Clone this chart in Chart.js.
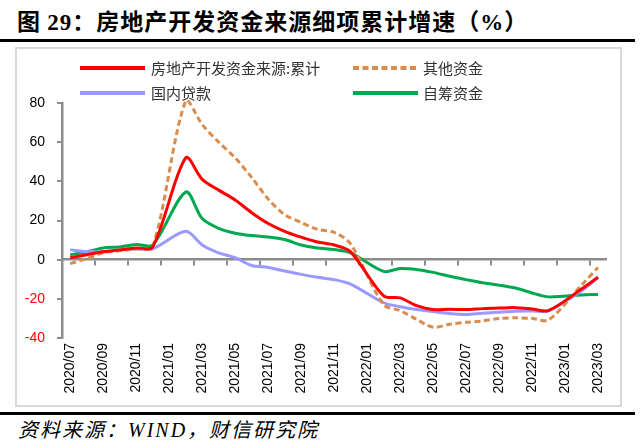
<!DOCTYPE html>
<html>
<head>
<meta charset="utf-8">
<script src="https://cdn.jsdelivr.net/npm/chart.js@4.4.0/dist/chart.umd.min.js"></script>
<style>
  body { margin: 0; width: 640px; height: 443px; background: #fff; position: relative; overflow: hidden;
         font-family: "Noto Sans CJK SC", sans-serif; }
  #title { position: absolute; left: 17px; top: 5px; font-size: 23px; font-weight: bold; letter-spacing: 1px;
           line-height: 30px; color: #000; white-space: nowrap; }
  #title .num { font-family: "Liberation Serif", serif; }
  .rule { position: absolute; left: 0; width: 635px; height: 3px; background: #000; }
  #frame { position: absolute; left: 15px; top: 47px; width: 607px; height: 360px; box-sizing: border-box;
           border: 2px solid #d9d9d9; }
  #wrap { position: absolute; left: 0; top: 0; width: 603px; height: 356px; }
  .leg { position: absolute; font-size: 15px; line-height: 20px; color: #333; white-space: nowrap; }
  .swatch { position: absolute; }
  #source { position: absolute; left: 18px; top: 416px; font-size: 20px; font-style: italic; letter-spacing: 2px;
            line-height: 26px; color: #000; white-space: nowrap; }
  #source .en { font-family: "Liberation Serif", serif; }
</style>
</head>
<body>
<div id="title">图 <span class="num">29</span>：房地产开发资金来源细项累计增速（<span class="num">%</span>）</div>
<div class="rule" style="top:39px"></div>

<div id="frame"><div id="wrap"><canvas id="chart-line"></canvas></div></div>

<svg class="swatch" style="left:78px;top:60px" width="70" height="45">
  <line x1="2" y1="8" x2="67" y2="8" stroke="#ff0000" stroke-width="4"/>
  <line x1="2" y1="33" x2="67" y2="33" stroke="#9999ff" stroke-width="4"/>
</svg>
<svg class="swatch" style="left:351px;top:60px" width="70" height="45">
  <line x1="2" y1="8" x2="67" y2="8" stroke="#d98c4e" stroke-width="4" stroke-dasharray="6,3.5"/>
  <line x1="2" y1="33" x2="67" y2="33" stroke="#00a850" stroke-width="4"/>
</svg>
<div class="leg" style="left:151px;top:58px">房地产开发资金来源:累计</div>
<div class="leg" style="left:151px;top:83px">国内贷款</div>
<div class="leg" style="left:423px;top:58px">其他资金</div>
<div class="leg" style="left:423px;top:83px">自筹资金</div>

<div class="rule" style="top:412px"></div>
<div id="source">资料来源：<span class="en">WIND</span>，财信研究院</div>

<script>
var months = ['2020/07', '2020/08', '2020/09', '2020/10', '2020/11', '2020/12',
  '2021/01', '2021/02', '2021/03', '2021/04', '2021/05', '2021/06',
  '2021/07', '2021/08', '2021/09', '2021/10', '2021/11', '2021/12',
  '2022/01', '2022/02', '2022/03', '2022/04', '2022/05', '2022/06',
  '2022/07', '2022/08', '2022/09', '2022/10', '2022/11', '2022/12',
  '2023/01', '2023/02', '2023/03'];

// January has no separate release (Jan-Feb combined), left empty
var totalFunds = [1, 2.5, 4, 5, 6, 6.5, null, 52, 41, 35.5, 30.5, 24,
  18.5, 14.5, 11.5, 9, 7.5, 4, null, -18.5, -19.5, -23.5, -25.5, -25.3,
  -25.5, -25, -24.7, -24.5, -25.2, -26, null, -15, -9];
var otherFunds = [-2, 0.5, 3.5, 4.5, 5.5, 6.5, null, 81, 69, 60, 52, 42,
  31, 23, 19, 15.5, 14, 8, null, -23, -26, -30.5, -34.5, -33,
  -32, -31.3, -30, -29.7, -30, -30.8, null, -13, -4];
var domesticLoans = [5, 4.2, 4, 5, 5.5, 5.5, null, 14.5, 7.5, 3.5, 1, -3,
  -4, -5.8, -7.5, -9, -10.2, -12.5, null, -22, -24, -25.5, -26.5, -27.5,
  -28, -27.3, -26.8, -26.3, -26.2, -26, null, -16, -9];
var selfRaised = [2.5, 4, 6, 6.5, 7.8, 7.5, null, 34.5, 21, 16, 13.5, 12.3,
  11.6, 10.3, 7.5, 6, 5.2, 3.5, null, -6, -4.5, -5, -6.5, -8.5,
  -10.2, -11.8, -13, -14.5, -17, -19, null, -18, -17.8];

var yTicks = [-40, -20, 0, 20, 40, 60, 80];

Chart.defaults.font.family = '"Liberation Sans", Arial, sans-serif';
Chart.defaults.color = '#000';

var axisGray = '#8c8c8c';

var line = function(label, data, color, dash) {
  return {
    label: label,
    data: data,
    borderColor: color,
    backgroundColor: color,
    borderWidth: 3,
    borderDash: dash || [],
    pointRadius: 0,
    tension: 0.3,
    spanGaps: true,
    clip: false
  };
};

new Chart(document.getElementById('chart-line'), {
  type: 'line',
  data: {
    labels: months,
    datasets: [
      line('房地产开发资金来源:累计', totalFunds, '#ff0000'),
      line('其他资金', otherFunds, '#d98c4e', [6, 3.5]),
      line('国内贷款', domesticLoans, '#9999ff'),
      line('自筹资金', selfRaised, '#00a850')
    ]
  },
  options: {
    responsive: true,
    maintainAspectRatio: false,
    animation: false,
    layout: { padding: { left: 0, right: 12, top: 54, bottom: 5 } },
    plugins: {
      legend: { display: false },
      tooltip: { enabled: false }
    },
    scales: {
      x: {
        type: 'category',
        offset: true,
        grid: { display: false, drawTicks: false },
        border: { display: false },
        ticks: {
          autoSkip: false,
          maxRotation: 90,
          minRotation: 90,
          padding: 5,
          font: { size: 14 },
          color: '#000',
          callback: function(value, index) {
            return index % 2 === 0 ? this.getLabelForValue(value) : '';
          }
        },
        afterFit: function(scale) { scale.height = 62; }
      },
      xZero: {
        type: 'category',
        axis: 'x',
        position: { y: 0 },
        offset: true,
        ticks: { display: false, autoSkip: false },
        grid: {
          offset: true,
          drawOnChartArea: false,
          drawTicks: true,
          tickLength: 5,
          lineWidth: 2,
          color: function(ctx) { return ctx.index % 2 === 0 ? axisGray : 'rgba(0,0,0,0)'; }
        },
        border: { display: true, color: axisGray, width: 2.5 }
      },
      y: {
        min: -40,
        max: 80,
        afterBuildTicks: function(scale) {
          scale.ticks = yTicks.map(function(v) { return { value: v }; });
        },
        grid: {
          drawOnChartArea: false,
          drawTicks: true,
          tickLength: 5,
          lineWidth: 2,
          color: axisGray
        },
        border: { display: true, color: axisGray, width: 2.5 },
        ticks: {
          padding: 12,
          font: { size: 14 },
          color: function(ctx) { return ctx.tick && ctx.tick.value < 0 ? '#ff0000' : '#000'; }
        },
        afterFit: function(scale) { scale.width = 45; }
      }
    }
  }
});
</script>
</body>
</html>
